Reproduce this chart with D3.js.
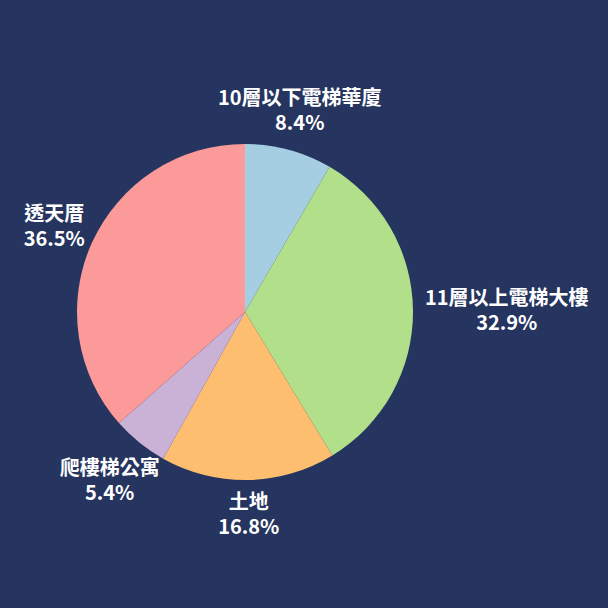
<!DOCTYPE html>
<html>
<head>
<meta charset="utf-8">
<script src="https://cdn.jsdelivr.net/npm/d3@7"></script>
<style>
  html, body { margin: 0; padding: 0; background: #26355f; }
  svg { display: block; }
</style>
</head>
<body>
<div id="pie-chart"></div>
<script>
const categories = ['10層以下電梯華廈', '11層以上電梯大樓', '土地', '爬樓梯公寓', '透天厝'];
const shares = [8.4, 32.9, 16.8, 5.4, 36.5];
const sliceColors = ['#a6cee3', '#b2df8a', '#fdbf6f', '#cab2d6', '#fb9a99'];

const W = 608, H = 608;
const cx = 245, cy = 312, radius = 168;
const labelRadius = 180;
const fontSize = 20, lineH = 25;

const svg = d3.select('#pie-chart')
  .append('svg')
  .attr('width', W)
  .attr('height', H);

svg.append('rect').attr('width', W).attr('height', H).attr('fill', '#26355f');

const data = categories.map((c, i) => ({ name: c, value: shares[i], color: sliceColors[i] }));

const pie = d3.pie().sort(null).value((d) => d.value);
const arc = d3.arc().innerRadius(0).outerRadius(radius);
const arcs = pie(data);

const g = svg.append('g').attr('transform', `translate(${cx},${cy})`);

g.selectAll('path.slice')
  .data(arcs)
  .enter()
  .append('path')
  .attr('class', 'slice')
  .attr('d', arc)
  .attr('fill', (d) => d.data.color);

/* ---------- labels: block centred on the mid-angle ray ---------- */
const labels = g.selectAll('g.label')
  .data(arcs)
  .enter()
  .append('g')
  .attr('class', 'label');

labels.each(function (d) {
  const sel = d3.select(this);
  const t = sel.append('text')
    .attr('text-anchor', 'middle')
    .attr('font-family', '"Noto Sans CJK TC", "Noto Sans", sans-serif')
    .attr('font-weight', 700)
    .attr('font-size', fontSize)
    .attr('fill', '#ffffff');
  t.append('tspan').attr('x', 0).attr('y', 0).text(d.data.name);
  t.append('tspan').attr('x', 0).attr('y', lineH).text(d.data.value.toFixed(1) + '%');

  // ink box: glyph top of line 1 to baseline of line 2
  const bb = t.node().getBBox();
  const inkTop = -0.85 * fontSize, inkBottom = lineH + 1;
  const w = bb.width, h = inkBottom - inkTop;
  const a = (d.startAngle + d.endAngle) / 2;
  const s = Math.sin(a), c = Math.cos(a);
  const dist = labelRadius + Math.hypot(s * w / 2, c * h / 2);
  const ox = s * dist - (bb.x + w / 2);
  const oy = -c * dist - (inkTop + inkBottom) / 2;
  sel.attr('transform', `translate(${ox},${oy})`);
});
</script>
</body>
</html>
